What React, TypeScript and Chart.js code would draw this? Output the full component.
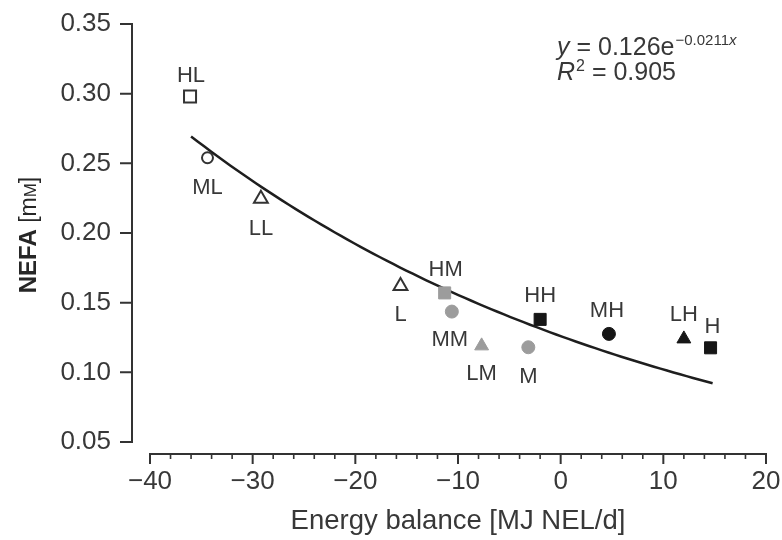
import React, { useEffect, useRef } from 'react';
import { Chart, registerables } from 'chart.js';

Chart.register(...registerables);

// ---- data ----
const TREATMENTS = ['HL', 'ML', 'LL', 'L', 'HM', 'MM', 'LM', 'M', 'HH', 'MH', 'LH', 'H'];
const ENERGY_BALANCE = [-36.1, -34.4, -29.2, -15.6, -11.3, -10.6, -7.7, -3.15, -2.0, 4.7, 12.0, 14.6];
const NEFA = [0.298, 0.254, 0.2245, 0.162, 0.157, 0.1436, 0.119, 0.118, 0.138, 0.1276, 0.124, 0.1176];

const X_TICKS = [-40, -30, -20, -10, 0, 10, 20];
const X_TICK_LABELS = ['\u221240', '\u221230', '\u221220', '\u221210', '0', '10', '20'];
const X_MINOR_STEP = 2;
const Y_TICKS = [0.05, 0.1, 0.15, 0.2, 0.25, 0.3, 0.35];
const Y_TICK_LABELS = ['0.05', '0.10', '0.15', '0.20', '0.25', '0.30', '0.35'];

const X_TITLE = 'Energy balance [MJ NEL/d]';

// fitted regression shown on the chart: y = A * e^(B x)
const FIT_A = 0.126;
const FIT_B = -0.0211;
const FIT_R2 = '0.905';
const FIT_X_START = -36.0;
const FIT_X_END = 14.8;

// ---- styles ----
const FONT = "'Liberation Sans', Arial, Helvetica, sans-serif";
const TEXT = '#383838';
const AXIS = '#333333';
const BLACK = '#161616';
const GRAY = '#9c9c9c';

const LABEL_OFFSET: Record<string, [number, number]> = {
  HL: [1, -22], ML: [0, 28], LL: [0, 28], L: [0, 27],
  HM: [1, -25], MM: [-2, 27], LM: [0, 26], M: [0, 28],
  HH: [0, -25], MH: [-2, -25], LH: [0, -26], H: [2, -23],
};

function shapeOf(name: string) {
  const c = name[0];
  return c === 'H' ? 'rect' : c === 'M' ? 'circle' : 'triangle';
}
function fillOf(name: string) {
  const c = name[name.length - 1];
  return c === 'L' ? 'open' : c === 'M' ? 'gray' : 'black';
}

const customDraw = {
  id: 'customDraw',
  afterDraw(chart: any) {
    const { ctx, chartArea } = chart;
    const x = chart.scales.x;
    const y = chart.scales.y;
    ctx.save();
    // axes
    ctx.strokeStyle = AXIS;
    ctx.lineWidth = 2;
    ctx.lineCap = 'butt';
    const yAxisX = chartArea.left - 18;
    const yTop = y.getPixelForValue(Y_TICKS[Y_TICKS.length - 1]);
    const yBot = y.getPixelForValue(Y_TICKS[0]);
    ctx.beginPath();
    ctx.moveTo(yAxisX, yTop - 1);
    ctx.lineTo(yAxisX, yBot + 1);
    Y_TICKS.forEach((v) => {
      const py = y.getPixelForValue(v);
      ctx.moveTo(yAxisX - 12, py);
      ctx.lineTo(yAxisX, py);
    });
    ctx.stroke();

    const xAxisY = chartArea.bottom + 12;
    const xL = x.getPixelForValue(X_TICKS[0]);
    const xR = x.getPixelForValue(X_TICKS[X_TICKS.length - 1]);
    ctx.beginPath();
    ctx.moveTo(xL - 1, xAxisY);
    ctx.lineTo(xR + 1, xAxisY);
    X_TICKS.forEach((v) => {
      const px = x.getPixelForValue(v);
      ctx.moveTo(px, xAxisY);
      ctx.lineTo(px, xAxisY + 10);
    });
    ctx.stroke();
    ctx.lineWidth = 1.6;
    ctx.beginPath();
    for (let v = X_TICKS[0]; v <= X_TICKS[X_TICKS.length - 1]; v += X_MINOR_STEP) {
      if (X_TICKS.includes(v)) continue;
      const px = x.getPixelForValue(v);
      ctx.moveTo(px, xAxisY);
      ctx.lineTo(px, xAxisY + 5);
    }
    ctx.stroke();

    // point labels
    const meta = chart.getDatasetMeta(0);
    ctx.fillStyle = TEXT;
    ctx.font = `22px ${FONT}`;
    ctx.textAlign = 'center';
    ctx.textBaseline = 'alphabetic';
    TREATMENTS.forEach((name, i) => {
      const el = meta.data[i];
      const [dx, dy] = LABEL_OFFSET[name];
      ctx.fillText(name, el.x + dx, el.y + dy + 7.8);
    });

    // equation
    ctx.textAlign = 'left';
    let ex = chartArea.right - 209;
    const b1 = 55;
    ctx.font = `italic 25px ${FONT}`;
    ctx.fillText('y', ex, b1);
    ex += ctx.measureText('y').width;
    ctx.font = `25px ${FONT}`;
    const mid = ` = ${FIT_A}e`;
    ctx.fillText(mid, ex, b1);
    ex += ctx.measureText(mid).width + 1;
    ctx.font = `15px ${FONT}`;
    const expo = `\u2212${Math.abs(FIT_B)}`;
    ctx.fillText(expo, ex, b1 - 10);
    ex += ctx.measureText(expo).width;
    ctx.font = `italic 15px ${FONT}`;
    ctx.fillText('x', ex, b1 - 10);

    let rx = chartArea.right - 209;
    const b2 = 80;
    ctx.font = `italic 25px ${FONT}`;
    ctx.fillText('R', rx, b2);
    rx += ctx.measureText('R').width + 1;
    ctx.font = `16px ${FONT}`;
    ctx.fillText('2', rx, b2 - 9);
    rx += ctx.measureText('2').width;
    ctx.font = `25px ${FONT}`;
    ctx.fillText(` = ${FIT_R2}`, rx, b2);

    // y title
    ctx.save();
    ctx.translate(27, (yTop + yBot) / 2 + 2);
    ctx.rotate(-Math.PI / 2);
    ctx.fillStyle = '#262626';
    const parts: [string, string][] = [
      ['NEFA', `bold 24px ${FONT}`],
      [' [m', `23px ${FONT}`],
      ['M', `17px ${FONT}`],
      [']', `23px ${FONT}`],
    ];
    let total = 0;
    parts.forEach(([t, f]) => { ctx.font = f; total += ctx.measureText(t).width; });
    let tx = -total / 2;
    parts.forEach(([t, f]) => {
      ctx.font = f;
      ctx.fillText(t, tx, 8.5);
      tx += ctx.measureText(t).width;
    });
    ctx.restore();

    ctx.restore();
  },
};

export default function App() {
  const ref = useRef<HTMLCanvasElement | null>(null);
  useEffect(() => {
    if (!ref.current) return;
    const points = TREATMENTS.map((_, i) => ({ x: ENERGY_BALANCE[i], y: NEFA[i] }));
    const shapes = TREATMENTS.map(shapeOf);
    const fills = TREATMENTS.map(fillOf);
    const fitPts: { x: number; y: number }[] = [];
    const n = 80;
    for (let k = 0; k <= n; k++) {
      const xv = FIT_X_START + ((FIT_X_END - FIT_X_START) * k) / n;
      fitPts.push({ x: xv, y: FIT_A * Math.exp(FIT_B * xv) });
    }
    const chart = new Chart(ref.current, {
      type: 'scatter',
      data: {
        datasets: [
          {
            label: 'treatments',
            data: points,
            order: 1,
            pointStyle: shapes as any,
            pointRadius: TREATMENTS.map((nm) => {
              const s = shapeOf(nm);
              const f = fillOf(nm);
              if (s === 'rect') return 8.5;
              if (s === 'triangle') return 8;
              return f === 'open' ? 5.5 : 6.5;
            }),
            backgroundColor: fills.map((f) => (f === 'open' ? '#ffffff' : f === 'gray' ? GRAY : BLACK)),
            borderColor: fills.map((f) => (f === 'open' ? AXIS : f === 'gray' ? GRAY : BLACK)),
            borderWidth: fills.map((f) => (f === 'open' ? 2 : 1)),
            showLine: false,
          },
          {
            label: 'fit',
            data: fitPts,
            order: 2,
            showLine: true,
            pointRadius: 0,
            borderColor: '#1e1e1e',
            borderWidth: 2.5,
            tension: 0,
            fill: false,
          },
        ],
      },
      options: {
        animation: false,
        responsive: false,
        devicePixelRatio: 1,
        layout: { padding: { top: 24, right: 16, left: 0, bottom: 0 } },
        plugins: { legend: { display: false }, tooltip: { enabled: false } },
        scales: {
          x: {
            type: 'linear',
            min: X_TICKS[0],
            max: X_TICKS[X_TICKS.length - 1],
            afterBuildTicks: (s: any) => { s.ticks = X_TICKS.map((value) => ({ value })); },
            afterFit: (s: any) => { s.height = 98; s.paddingLeft = 0; s.paddingRight = 0; },
            grid: { display: false, drawTicks: false, tickLength: 0 },
            border: { display: false },
            ticks: {
              padding: 24,
              color: TEXT,
              font: { family: FONT, size: 26 },
              maxRotation: 0,
              autoSkip: false,
              callback: (_v: any, i: number) => X_TICK_LABELS[i],
            },
            title: {
              display: true,
              text: X_TITLE,
              color: TEXT,
              font: { family: FONT, size: 27.5 },
              padding: { top: 0, bottom: 2 },
            },
          },
          y: {
            type: 'linear',
            min: Y_TICKS[0],
            max: Y_TICKS[Y_TICKS.length - 1],
            afterBuildTicks: (s: any) => { s.ticks = Y_TICKS.map((value) => ({ value })); },
            afterFit: (s: any) => { s.width = 150; s.paddingTop = 0; s.paddingBottom = 0; },
            grid: { display: false, drawTicks: false, tickLength: 0 },
            border: { display: false },
            ticks: {
              padding: 39,
              color: TEXT,
              font: { family: FONT, size: 26 },
              autoSkip: false,
              callback: (_v: any, i: number) => Y_TICK_LABELS[i],
            },
          },
        },
      },
      plugins: [customDraw],
    });
    return () => chart.destroy();
  }, []);
  return (
    <div style={{ position: 'absolute', left: 0, top: 0, width: 782, height: 540, background: '#fff' }}>
      <canvas ref={ref} width={782} height={540} style={{ display: 'block', width: 782, height: 540 }} />
    </div>
  );
}
